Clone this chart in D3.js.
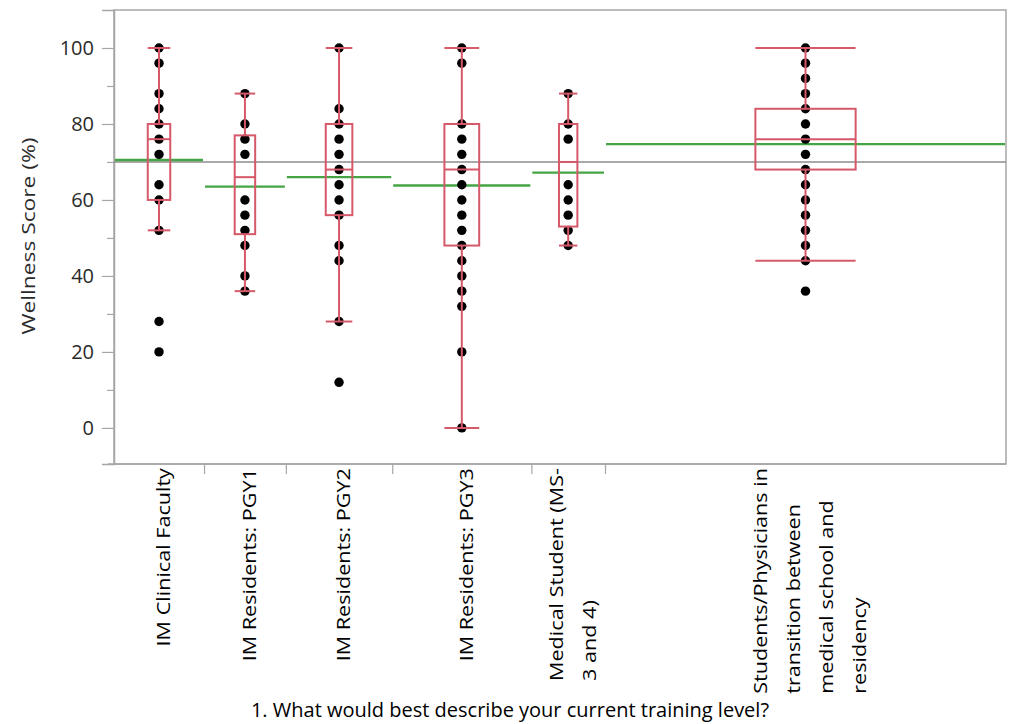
<!DOCTYPE html>
<html>
<head>
<meta charset="utf-8">
<script src="https://cdn.jsdelivr.net/npm/d3@7"></script>
<style>
  body { margin: 0; background: #fff; }
  svg { display: block; font-family: "Open Sans", "Noto Sans", sans-serif; }
</style>
</head>
<body>
<div id="chart"></div>
<script>
// groups (x axis), widths follow group size like JMP does
var groups = [
  ["IM Clinical Faculty"],
  ["IM Residents: PGY1"],
  ["IM Residents: PGY2"],
  ["IM Residents: PGY3"],
  ["Medical Student (MS-", "3 and 4)"],
  ["Students/Physicians in", "transition between", "medical school and", "residency"]
];
var groupN = [11, 10, 13, 17, 9, 49];

// individual scores per group
var scores = [
  [100, 96, 88, 84, 80, 76, 72, 64, 60, 52, 28, 20],
  [88, 80, 76, 72, 60, 56, 52, 48, 40, 36],
  [100, 84, 80, 76, 72, 68, 64, 60, 56, 48, 44, 28, 12],
  [100, 96, 80, 76, 72, 68, 64, 60, 56, 52, 48, 44, 40, 36, 32, 20, 0],
  [88, 80, 76, 64, 60, 56, 52, 48],
  [100, 96, 92, 88, 84, 80, 76, 72, 68, 64, 60, 56, 52, 48, 44, 36]
];

// box plot stats
var whiskerLo = [52, 36, 28, 0, 48, 44];
var q1 = [60, 51, 56, 48, 53, 68];
var median = [76, 66, 68, 68, 70, 76];
var q3 = [80, 77, 80, 80, 80, 84];
var whiskerHi = [100, 88, 100, 100, 88, 100];

// group means (green) and grand mean (gray)
var means = [70.5, 63.5, 66, 63.8, 67.2, 74.7];
var grandMean = 70;

var yTicks = [0, 20, 40, 60, 80, 100];
var yMinor = [10, 30, 50, 70, 90];
var yTitle = "Wellness Score (%)";
var xTitle = "1. What would best describe your current training level?";

var W = 1010, H = 724;
var pLeft = 114, pRight = 1006, pTop = 10, pBottom = 464;
var stretch = 1.2; // rotated text in the source is drawn taller than wide

var svg = d3.select("#chart").append("svg")
  .attr("width", W)
  .attr("height", H);

var y = d3.scaleLinear()
  .domain([-9.5, 110])
  .range([pBottom, pTop]);

var cum = [0];
for (var i = 0; i < groupN.length; i++) {
  cum.push(cum[i] + groupN[i]);
}
var x = d3.scaleLinear()
  .domain([0, d3.sum(groupN)])
  .range([pLeft, pRight]);

var red = "#d6596a";
var green = "#45a545";
var axisGray = "#a6a6a6";

// frame
svg.append("rect")
  .attr("x", pLeft)
  .attr("y", pTop)
  .attr("width", pRight - pLeft)
  .attr("height", pBottom - pTop)
  .attr("fill", "none")
  .attr("stroke", axisGray)
  .attr("stroke-width", 1.5);

// y axis
var yAxis = svg.append("g")
  .attr("transform", "translate(" + pLeft + ",0)")
  .call(d3.axisLeft(y).tickValues(yTicks).tickSize(12).tickPadding(8));
yAxis.select(".domain").attr("stroke", axisGray).attr("stroke-width", 1.5);
yAxis.selectAll(".tick line").attr("stroke", axisGray).attr("stroke-width", 1.2);
yAxis.selectAll(".tick text")
  .attr("font-size", 20)
  .attr("fill", "#2a2a2a")
  .attr("font-family", "Open Sans, sans-serif");

svg.append("g")
  .attr("transform", "translate(" + pLeft + ",0)")
  .call(d3.axisLeft(y).tickValues(yMinor).tickSize(7).tickFormat(""))
  .call(function(g) { g.select(".domain").remove(); })
  .selectAll(".tick line").attr("stroke", axisGray).attr("stroke-width", 1.2);

svg.append("text")
  .attr("transform", "translate(28,236) scale(1," + stretch + ") rotate(-90)")
  .attr("text-anchor", "middle")
  .attr("dy", "0.35em")
  .attr("font-size", 19)
  .attr("fill", "#2a2a2a")
  .text(yTitle);

// x axis: ticks at the group boundaries
var xAxis = svg.append("g")
  .attr("transform", "translate(0," + pBottom + ")")
  .call(d3.axisBottom(x).tickValues(cum.slice(1, cum.length - 1)).tickSize(10).tickFormat(""));
xAxis.select(".domain").remove();
xAxis.selectAll(".tick line").attr("stroke", axisGray).attr("stroke-width", 1.2);

svg.append("line")
  .attr("x1", pLeft - 6).attr("x2", pRight)
  .attr("y1", pBottom).attr("y2", pBottom)
  .attr("stroke", axisGray).attr("stroke-width", 1.5);

// grand mean
svg.append("line")
  .attr("x1", pLeft).attr("x2", pRight)
  .attr("y1", y(grandMean)).attr("y2", y(grandMean))
  .attr("stroke", "#8c8c8c")
  .attr("stroke-width", 1.6);

// group means
svg.selectAll(".mean")
  .data(means)
  .enter().append("line")
  .attr("x1", function(d, i) { return x(cum[i]) + 1; })
  .attr("x2", function(d, i) { return x(cum[i + 1]) - 1; })
  .attr("y1", function(d) { return y(d); })
  .attr("y2", function(d) { return y(d); })
  .attr("stroke", green)
  .attr("stroke-width", 2.4);

// points
for (var g = 0; g < scores.length; g++) {
  var cx = x(cum[g] + groupN[g] / 2);
  svg.selectAll(".pt" + g)
    .data(scores[g])
    .enter().append("circle")
    .attr("cx", cx)
    .attr("cy", function(d) { return y(d); })
    .attr("r", 4.7)
    .attr("fill", "#000");
}

// boxes
for (var g = 0; g < groups.length; g++) {
  var x0 = x(cum[g]), x1 = x(cum[g + 1]);
  var cx = (x0 + x1) / 2;
  var bw = (x1 - x0) * 0.25;
  var b = svg.append("g")
    .attr("stroke", red)
    .attr("stroke-width", 2)
    .attr("fill", "none");
  b.append("rect")
    .attr("x", cx - bw / 2)
    .attr("y", y(q3[g]))
    .attr("width", bw)
    .attr("height", y(q1[g]) - y(q3[g]));
  b.append("line")
    .attr("x1", cx - bw / 2).attr("x2", cx + bw / 2)
    .attr("y1", y(median[g])).attr("y2", y(median[g]));
  b.append("line")
    .attr("x1", cx).attr("x2", cx)
    .attr("y1", y(q3[g])).attr("y2", y(whiskerHi[g]));
  b.append("line")
    .attr("x1", cx).attr("x2", cx)
    .attr("y1", y(q1[g])).attr("y2", y(whiskerLo[g]));
  b.append("line")
    .attr("x1", cx - bw / 2).attr("x2", cx + bw / 2)
    .attr("y1", y(whiskerHi[g])).attr("y2", y(whiskerHi[g]));
  b.append("line")
    .attr("x1", cx - bw / 2).attr("x2", cx + bw / 2)
    .attr("y1", y(whiskerLo[g])).attr("y2", y(whiskerLo[g]));
}

// group labels, rotated, lines left aligned, block pushed against the axis
var lineGap = 33;
for (var g = 0; g < groups.length; g++) {
  var lines = groups[g];
  var cx = x(cum[g] + groupN[g] / 2) + 5;
  var lab = svg.append("g");
  var texts = [];
  for (var k = 0; k < lines.length; k++) {
    var off = (k - (lines.length - 1) / 2) * lineGap;
    texts.push(lab.append("text")
      .attr("font-size", 18)
      .attr("fill", "#000")
      .attr("dy", "0.35em")
      .text(lines[k])
      .attr("data-x", cx + off));
  }
  var maxLen = d3.max(texts, function(t) { return t.node().getComputedTextLength(); });
  var startY = pBottom + 4 + maxLen * stretch;
  texts.forEach(function(t) {
    t.attr("text-anchor", "start")
      .attr("transform", "translate(" + t.attr("data-x") + "," + startY + ") scale(1," + stretch + ") rotate(-90)");
  });
}

svg.append("text")
  .attr("x", 510)
  .attr("y", 717)
  .attr("text-anchor", "middle")
  .attr("font-size", 20)
  .attr("fill", "#000")
  .text(xTitle);
</script>
</body>
</html>
